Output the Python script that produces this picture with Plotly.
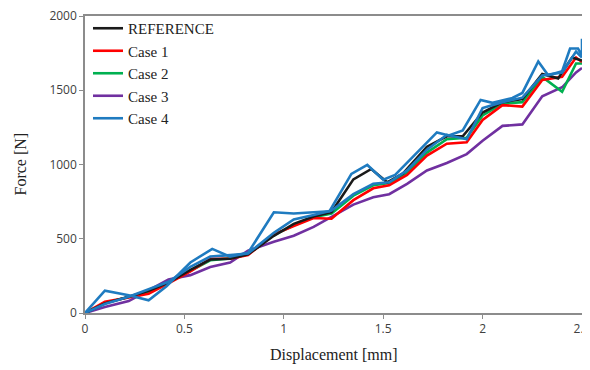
import plotly.graph_objects as go

# Displacement [mm] sample points
x_ref = [0, 0.1, 0.22, 0.32, 0.42, 0.53, 0.63, 0.73, 0.82, 0.95, 1.05, 1.15, 1.24, 1.35, 1.44, 1.52, 1.6, 1.72, 1.82, 1.9, 2.0, 2.1, 2.2, 2.3, 2.38, 2.45, 2.5]
f_ref = [0, 65, 110, 150, 205, 290, 360, 365, 395, 520, 600, 650, 680, 900, 970, 880, 940, 1120, 1190, 1190, 1350, 1420, 1440, 1610, 1580, 1720, 1700]

x_c1 = [0, 0.1, 0.22, 0.32, 0.42, 0.53, 0.63, 0.73, 0.82, 0.95, 1.05, 1.15, 1.24, 1.35, 1.45, 1.53, 1.62, 1.72, 1.82, 1.92, 2.0, 2.1, 2.2, 2.3, 2.4, 2.47, 2.5]
f_c1 = [0, 75, 105, 130, 200, 280, 365, 365, 390, 530, 585, 640, 635, 760, 840, 860, 930, 1060, 1140, 1150, 1300, 1400, 1390, 1570, 1590, 1720, 1690]

x_c2 = [0, 0.1, 0.22, 0.32, 0.42, 0.53, 0.63, 0.73, 0.82, 0.95, 1.05, 1.15, 1.24, 1.35, 1.45, 1.53, 1.62, 1.72, 1.82, 1.92, 2.0, 2.1, 2.2, 2.3, 2.4, 2.47, 2.5]
f_c2 = [0, 68, 108, 145, 205, 285, 355, 368, 398, 525, 590, 645, 670, 790, 860, 875, 945, 1080, 1170, 1180, 1330, 1410, 1420, 1590, 1490, 1680, 1680]

x_c3 = [0, 0.1, 0.22, 0.32, 0.42, 0.53, 0.63, 0.73, 0.82, 0.95, 1.05, 1.15, 1.24, 1.35, 1.45, 1.53, 1.62, 1.72, 1.82, 1.92, 2.0, 2.1, 2.2, 2.3, 2.4, 2.47, 2.5]
f_c3 = [0, 40, 80, 150, 225, 255, 310, 340, 420, 480, 520, 580, 650, 730, 780, 800, 870, 960, 1010, 1070, 1160, 1260, 1270, 1460, 1520, 1620, 1650]

x_c4 = [0, 0.1, 0.22, 0.32, 0.41, 0.53, 0.64, 0.73, 0.82, 0.95, 1.05, 1.23, 1.34, 1.42, 1.5, 1.56, 1.77, 1.83, 1.9, 1.99, 2.05, 2.15, 2.2, 2.28, 2.33, 2.4, 2.44, 2.48, 2.5, 2.5]
f_c4 = [0, 150, 120, 86, 180, 340, 432, 380, 405, 678, 670, 685, 937, 997, 897, 930, 1216, 1196, 1229, 1435, 1415, 1448, 1482, 1694, 1601, 1628, 1781, 1781, 1734, 1847]

x_c4b = [0, 0.1, 0.22, 0.32, 0.42, 0.53, 0.63, 0.73, 0.82, 0.95, 1.05, 1.15, 1.24, 1.35, 1.45, 1.53, 1.62, 1.72, 1.82, 1.92, 2.0, 2.1, 2.2, 2.3, 2.4, 2.47, 2.5]
f_c4b = [0, 60, 110, 160, 210, 310, 380, 390, 400, 540, 630, 660, 690, 800, 870, 880, 960, 1100, 1200, 1170, 1380, 1420, 1450, 1600, 1620, 1760, 1720]

x_ticks = [0, 0.5, 1, 1.5, 2, 2.5]
x_tick_text = ["0", "0.5", "1", "1.5", "2", "2.5"]
y_ticks = [0, 500, 1000, 1500, 2000]
x_title = "Displacement [mm]"
y_title = "Force [N]"

W, H = 582, 362
L, R, T, B = 77, 8, 8, 57
pw, ph = W - L - R, H - T - B

fig = go.Figure()
lw = 2.6
fig.add_trace(go.Scatter(x=x_c3, y=f_c3, mode="lines", name="Case 3", line=dict(color="#7030A0", width=lw), legendrank=4))
fig.add_trace(go.Scatter(x=x_c2, y=f_c2, mode="lines", name="Case 2", line=dict(color="#00B050", width=lw), legendrank=3))
fig.add_trace(go.Scatter(x=x_c1, y=f_c1, mode="lines", name="Case 1", line=dict(color="#FF0000", width=lw), legendrank=2))
fig.add_trace(go.Scatter(x=x_ref, y=f_ref, mode="lines", name="REFERENCE", line=dict(color="#1a1a1a", width=lw), legendrank=1))
fig.add_trace(go.Scatter(x=x_c4b, y=f_c4b, mode="lines", name="Case 4", showlegend=False, legendgroup="c4", line=dict(color="#1F7BC0", width=lw)))
fig.add_trace(go.Scatter(x=x_c4, y=f_c4, mode="lines", name="Case 4", legendgroup="c4", line=dict(color="#1F7BC0", width=lw), legendrank=5))

axis_common = dict(
    showline=True, linecolor="#8c8c8c", linewidth=1.5, mirror=True, automargin=False,
    showgrid=False, zeroline=False, ticks="outside", ticklen=4, tickcolor="#8c8c8c",
    ticklabeloverflow="allow",
    tickfont=dict(family="Open Sans, Liberation Sans, sans-serif", size=12, color="#404040"),
)
fig.update_xaxes(range=[0, 2.5], tickvals=x_ticks, ticktext=x_tick_text, **axis_common)
fig.update_yaxes(range=[0, 2000], tickvals=y_ticks, **axis_common)

title_font = dict(family="Liberation Serif, Times New Roman, serif", size=16, color="#222")
fig.add_annotation(text=x_title, xref="paper", yref="paper", x=0.5, y=-(347 - (T + ph)) / ph,
                   xanchor="center", yanchor="middle", showarrow=False, font=title_font)
fig.add_annotation(text=y_title, xref="paper", yref="paper", x=(12 - L) / pw, y=0.5, textangle=-90,
                   xanchor="center", yanchor="middle", showarrow=False, font=title_font)

fig.update_layout(
    width=W, height=H,
    margin=dict(l=L, r=R, t=T, b=B, autoexpand=False),
    plot_bgcolor="white", paper_bgcolor="white",
    showlegend=True,
    legend=dict(xref="container", yref="container", x=80 / W, y=1 - 4 / H, xanchor="left", yanchor="top",
                bgcolor="rgba(0,0,0,0)",
                font=dict(family="Liberation Serif, Times New Roman, serif", size=15, color="#222"),
                itemwidth=30, tracegroupgap=0, traceorder="normal"),
)
fig.write_html("out.html")
